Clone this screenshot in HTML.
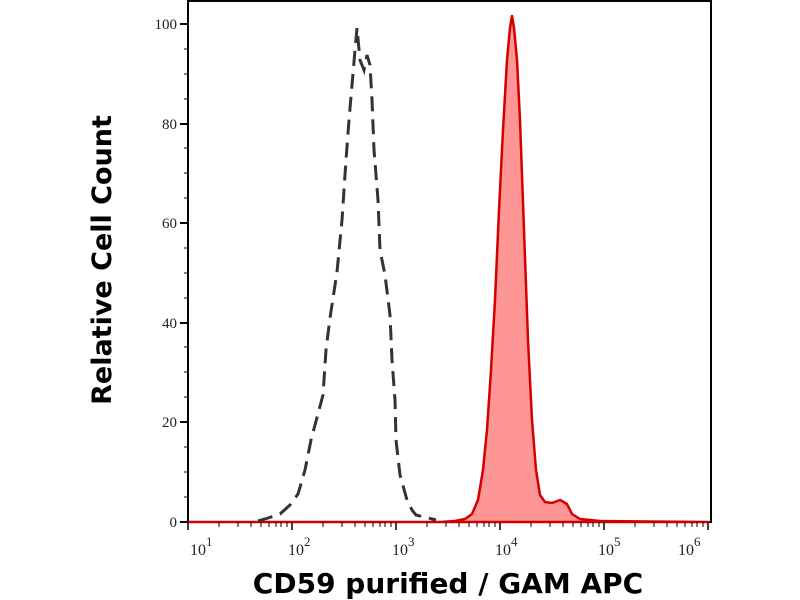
<!DOCTYPE html>
<html><head><meta charset="utf-8"><style>
html,body{margin:0;padding:0;background:#fff;width:800px;height:600px;overflow:hidden}
svg text{font-family:"Liberation Serif",serif;fill:#222}
</style></head><body>
<svg width="800" height="600" viewBox="0 0 800 600" xmlns="http://www.w3.org/2000/svg">
<rect x="188" y="1" width="523" height="521" fill="#fff" stroke="#000" stroke-width="2"/>
<path d="M188,522 L440,522 L455,521 L465,519 L472,514 L478,500 L483,470 L487,430 L491,370 L495,300 L499,210 L503,130 L507,60 L510,28 L512,16 L514,28 L517,60 L520,120 L524,230 L528,340 L532,420 L536,470 L540,495 L545,502 L552,503 L560,500 L567,504 L572,514 L580,519 L600,521 L708,522 Z" fill="#ff9696" stroke="#d40000" stroke-width="2.5" stroke-linejoin="round"/>
<path d="M258,521 L265,519 L280,514 L290,505 L298,494 L305,470 L311,440 L319,410 L323,395 L326,350 L330,318 L337,272 L342,220 L346,160 L349,120 L352,85 L355,50 L357,28 L360,60 L364,70 L367,55 L370,65 L372,100 L374,150 L378,200 L380,250 L385,275 L390,315 L392,360 L395,400 L396,440 L400,475 L407,500 L412,510 L416,515 L428,518 L436,520" fill="none" stroke="#333" stroke-width="3" stroke-dasharray="15,8"/>
<g stroke="#000" stroke-width="2">
<line x1="180" y1="522" x2="188" y2="522"/><line x1="180" y1="422" x2="188" y2="422"/>
<line x1="180" y1="323" x2="188" y2="323"/><line x1="180" y1="223" x2="188" y2="223"/>
<line x1="180" y1="124" x2="188" y2="124"/><line x1="180" y1="24" x2="188" y2="24"/>
</g>
<g stroke="#000" stroke-width="1">
<line x1="184" y1="497" x2="188" y2="497"/><line x1="184" y1="472" x2="188" y2="472"/><line x1="184" y1="447" x2="188" y2="447"/>
<line x1="184" y1="397" x2="188" y2="397"/><line x1="184" y1="372" x2="188" y2="372"/><line x1="184" y1="347" x2="188" y2="347"/>
<line x1="184" y1="298" x2="188" y2="298"/><line x1="184" y1="273" x2="188" y2="273"/><line x1="184" y1="248" x2="188" y2="248"/>
<line x1="184" y1="198" x2="188" y2="198"/><line x1="184" y1="173" x2="188" y2="173"/><line x1="184" y1="148" x2="188" y2="148"/>
<line x1="184" y1="99" x2="188" y2="99"/><line x1="184" y1="74" x2="188" y2="74"/><line x1="184" y1="49" x2="188" y2="49"/>
</g>
<g font-size="15" text-anchor="end">
<text x="177" y="527">0</text><text x="177" y="427">20</text><text x="177" y="328">40</text>
<text x="177" y="228">60</text><text x="177" y="129">80</text><text x="177" y="29">100</text>
</g>
<g stroke="#000" stroke-width="1.5">
<line x1="188" y1="522" x2="188" y2="530"/><line x1="292" y1="522" x2="292" y2="530"/>
<line x1="396" y1="522" x2="396" y2="530"/><line x1="500" y1="522" x2="500" y2="530"/>
<line x1="604" y1="522" x2="604" y2="530"/><line x1="708" y1="522" x2="708" y2="530"/>
</g>
<g stroke="#000" stroke-width="1">
<path d="M219,522v5M238,522v5M251,522v5M261,522v5M269,522v5M276,522v5M281,522v5M287,522v5
M323,522v5M342,522v5M355,522v5M365,522v5M373,522v5M380,522v5M385,522v5M391,522v5
M427,522v5M446,522v5M459,522v5M469,522v5M477,522v5M484,522v5M489,522v5M495,522v5
M531,522v5M550,522v5M563,522v5M573,522v5M581,522v5M588,522v5M593,522v5M599,522v5
M635,522v5M654,522v5M667,522v5M677,522v5M685,522v5M692,522v5M697,522v5M703,522v5"/>
</g>
<g font-size="16">
<text x="190" y="555">10<tspan dy="-9" font-size="13">1</tspan></text>
<text x="288" y="555">10<tspan dy="-9" font-size="13">2</tspan></text>
<text x="392" y="555">10<tspan dy="-9" font-size="13">3</tspan></text>
<text x="495" y="555">10<tspan dy="-9" font-size="13">4</tspan></text>
<text x="598" y="555">10<tspan dy="-9" font-size="13">5</tspan></text>
<text x="678" y="555">10<tspan dy="-9" font-size="13">6</tspan></text>
</g>
<text x="448" y="593" text-anchor="middle" style="font-family:'DejaVu Sans',sans-serif;font-weight:bold;font-size:28px;fill:#000">CD59 purified / GAM APC</text>
<text transform="translate(111,260) rotate(-90)" text-anchor="middle" style="font-family:'DejaVu Sans',sans-serif;font-weight:bold;font-size:27px;fill:#000">Relative Cell Count</text>
</svg>
</body></html>
